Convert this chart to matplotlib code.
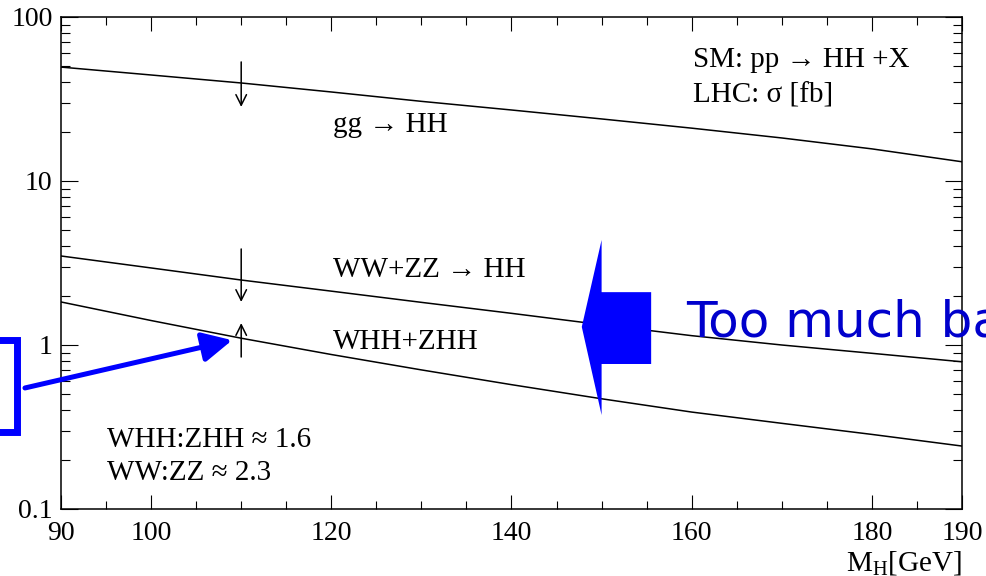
import matplotlib
matplotlib.use('Agg')
import matplotlib.pyplot as plt
from matplotlib.patches import Polygon
from matplotlib.lines import Line2D
import numpy as np

plt.rcParams['font.family'] = ['Liberation Serif', 'DejaVu Serif']
plt.rcParams['mathtext.fontset'] = 'custom'
plt.rcParams['mathtext.rm'] = 'Liberation Serif'
plt.rcParams['mathtext.it'] = 'Liberation Serif:italic'

# ---- data (sigma in fb vs M_H in GeV) ----
m_h = [90, 100, 110, 120, 130, 140, 150, 160, 170, 180, 190]
sigma_gg = [49.5, 44.3, 39.6, 34.9, 30.6, 27.1, 23.9, 21.0, 18.3, 15.7, 13.1]
sigma_vbf = [3.49, 2.95, 2.49, 2.13, 1.82, 1.56, 1.33, 1.14, 1.00, 0.89, 0.79]
sigma_vhh = [1.83, 1.41, 1.10, 0.875, 0.705, 0.573, 0.47, 0.39, 0.333, 0.285, 0.242]

x_ticks = [90, 100, 120, 140, 160, 180, 190]
y_ticks = [0.1, 1, 10, 100]
y_tick_labels = ['0.1', '1', '10', '100']

# arrows at M_H = 110 : (start, end)
arrow_x = 110
arrows = [(53.2, 28.3), (3.85, 1.83), (0.845, 1.36)]

W, H = 987, 576
fig = plt.figure(figsize=(W / 100, H / 100), dpi=100)
ax = fig.add_axes([61 / W, 1 - 509 / H, 901 / W, 492 / H])

for s in [sigma_gg, sigma_vbf, sigma_vhh]:
    ax.plot(m_h, s, color='black', lw=1.1)

ax.set_yscale('log')
ax.set_xlim(90, 190)
ax.set_ylim(0.1, 100)
ax.set_xticks(x_ticks)
ax.set_xticklabels([str(t) for t in x_ticks])
ax.set_xticks(np.arange(90, 191, 5), minor=True)
ax.set_yticks(y_ticks)
ax.set_yticklabels(y_tick_labels)
ax.tick_params(which='both', direction='in', top=True, right=True, width=0.8,
               labelsize=20, colors='black')
ax.tick_params(axis='x', which='major', length=10, pad=9)
ax.tick_params(axis='x', which='minor', length=6)
ax.tick_params(axis='y', which='major', length=12.5, pad=6)
ax.tick_params(axis='y', which='minor', length=6.5)
for sp in ax.spines.values():
    sp.set_linewidth(1.1)

ax.set_xlabel(r'$\mathregular{M_H[GeV]}$', fontsize=21)
ax.xaxis.set_label_coords(1.0, -0.082)
ax.xaxis.label.set_ha('right')
ax.xaxis.label.set_va('top')

for a, b in arrows:
    ax.annotate('', xy=(arrow_x, b), xytext=(arrow_x, a),
                arrowprops=dict(arrowstyle='->', lw=1.1, color='black',
                                mutation_scale=19, shrinkA=0, shrinkB=0))

fs = 21
ax.text(0.302, 0.766, 'gg \u2192 HH', transform=ax.transAxes, fontsize=fs, va='baseline')
ax.text(0.302, 0.4715, 'WW+ZZ \u2192 HH', transform=ax.transAxes, fontsize=fs, va='baseline')
ax.text(0.302, 0.325, 'WHH+ZHH', transform=ax.transAxes, fontsize=fs, va='baseline')
ax.text(0.701, 0.898, 'SM: pp \u2192 HH +X', transform=ax.transAxes, fontsize=fs, va='baseline')
ax.text(0.701, 0.827, 'LHC: \u03c3 [fb]', transform=ax.transAxes, fontsize=fs, va='baseline')
ax.text(0.051, 0.126, 'WHH:ZHH \u2248 1.6', transform=ax.transAxes, fontsize=fs, va='baseline')
ax.text(0.051, 0.059, 'WW:ZZ \u2248 2.3', transform=ax.transAxes, fontsize=fs, va='baseline')

# ---- blue overlay from the slide ----
blue = '#0000ff'
big_arrow = Polygon([(147.8, 1.29), (150.0, 4.37), (150.0, 2.10), (155.5, 2.10),
                     (155.5, 0.766), (150.0, 0.766), (150.0, 0.374)],
                    closed=True, facecolor=blue, edgecolor='none', zorder=5)
ax.add_patch(big_arrow)

# the slide text runs off the right edge of the picture, as in the original
ax.text(0.694, 0.35, 'Too much background', transform=ax.transAxes, fontsize=36,
        color='#0000cc', va='baseline', family='DejaVu Sans', clip_on=False, zorder=6)

ax.annotate('', xy=(109.0, 1.07), xytext=(86.0, 0.547), annotation_clip=False,
            arrowprops=dict(arrowstyle='-|>,head_length=0.9,head_width=0.45', lw=3.6,
                            color=blue, mutation_scale=20, shrinkA=0, shrinkB=0),
            zorder=6)

bx = [0, 17, 17, 0]
by = [340, 340, 432, 432]
fig.add_artist(Line2D([v / W for v in bx], [1 - v / H for v in by], transform=fig.transFigure,
                      color=blue, lw=5, solid_joinstyle='miter'))

fig.savefig('out.png', dpi=100)
